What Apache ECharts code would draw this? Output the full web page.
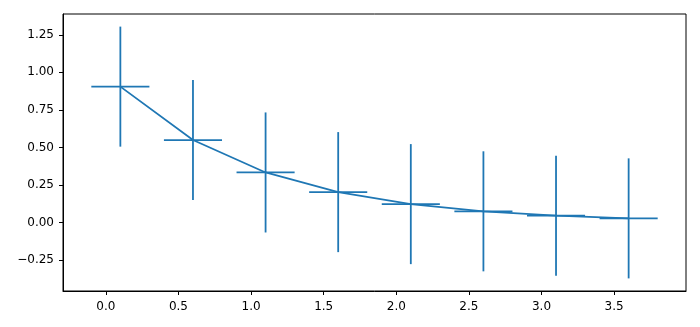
<!DOCTYPE html>
<html lang="en">
<head>
    <meta charset="UTF-8">
    <title>errorbar</title>
</head>
<script src="https://cdn.jsdelivr.net/npm/echarts@6/dist/echarts.min.js"></script>
<body style="margin:0">
<div id="main" style="height: 327px;width: 700px"></div>
<script type="text/javascript">
    // data
    var xs = [0.1, 0.6, 1.1, 1.6, 2.1, 2.6, 3.1, 3.6]
    var ys = [0.905, 0.549, 0.333, 0.202, 0.122, 0.074, 0.045, 0.027]
    var xerr = [0.2, 0.2, 0.2, 0.2, 0.2, 0.2, 0.2, 0.2]
    var yerr = [0.4, 0.4, 0.4, 0.4, 0.4, 0.4, 0.4, 0.4]
    var xTicks = [0.0, 0.5, 1.0, 1.5, 2.0, 2.5, 3.0, 3.5]
    var yTicks = [-0.25, 0.0, 0.25, 0.5, 0.75, 1.0, 1.25]

    var blue = '#1f77b4'
    var font = 'DejaVu Sans'

    var lineData = xs.map(function (x, i) { return [x, ys[i]] })
    var errData = xs.map(function (x, i) { return [x, ys[i], xerr[i], yerr[i]] })

    function fmt(v, d) {
        var s = Math.abs(v).toFixed(d)
        return v < 0 ? '\u2212' + s : s
    }

    var myChart = echarts.init(document.getElementById("main"))
    var option = {
        animation: false,
        grid: {
            left: 63, right: 14, top: 14, bottom: 36,
            show: true, borderColor: '#000', borderWidth: 1,
            backgroundColor: 'transparent'
        },
        xAxis: {
            type: 'value',
            min: -0.295, max: 3.995,
            splitLine: {show: false},
            axisLine: {show: true, onZero: false, lineStyle: {color: '#000', width: 1}},
            axisTick: {show: true, length: 4, customValues: xTicks, lineStyle: {color: '#000', width: 1}},
            axisLabel: {
                customValues: xTicks, margin: 10, color: '#000',
                fontFamily: font, fontSize: 12,
                formatter: function (v) { return fmt(v, 1) }
            }
        },
        yAxis: {
            type: 'value',
            min: -0.457, max: 1.389,
            splitLine: {show: false},
            axisLine: {show: true, onZero: false, lineStyle: {color: '#000', width: 1}},
            axisTick: {show: true, length: 4, customValues: yTicks, lineStyle: {color: '#000', width: 1}},
            axisLabel: {
                customValues: yTicks, margin: 9, color: '#000',
                fontFamily: font, fontSize: 12,
                formatter: function (v) { return fmt(v, 2) }
            }
        },
        series: [{
            type: 'line',
            data: lineData,
            showSymbol: false,
            lineStyle: {color: blue, width: 1.8}
        }, {
            type: 'custom',
            data: errData,
            renderItem: function (params, api) {
                var x = api.value(0), y = api.value(1)
                var dx = api.value(2), dy = api.value(3)
                var h0 = api.coord([x - dx, y]), h1 = api.coord([x + dx, y])
                var v0 = api.coord([x, y - dy]), v1 = api.coord([x, y + dy])
                var st = {stroke: blue, lineWidth: 1.8, fill: null}
                return {
                    type: 'group',
                    children: [
                        {type: 'line', shape: {x1: h0[0], y1: h0[1], x2: h1[0], y2: h1[1]}, style: st},
                        {type: 'line', shape: {x1: v0[0], y1: v0[1], x2: v1[0], y2: v1[1]}, style: st}
                    ]
                }
            }
        }]
    }
    myChart.setOption(option)
</script>
</body>
</html>
